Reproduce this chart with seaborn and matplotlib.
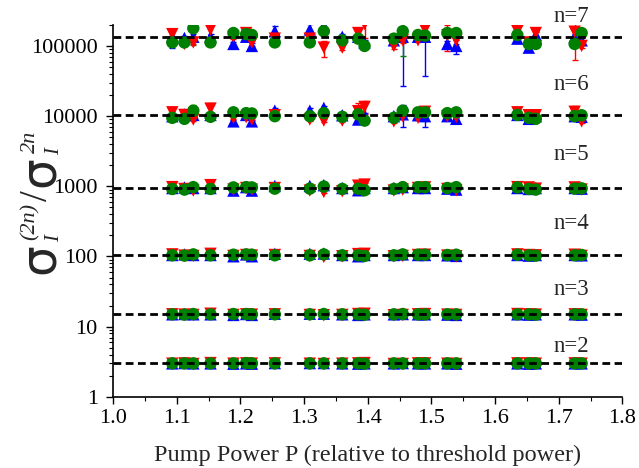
import numpy as np
import pandas as pd
import matplotlib
matplotlib.use("Agg")
import matplotlib.pyplot as plt
import seaborn as sns
from matplotlib.ticker import FuncFormatter, MultipleLocator, LogLocator

# pump power (relative to threshold)
power = [1.093, 1.112, 1.126, 1.153, 1.189, 1.209, 1.218, 1.254, 1.309, 1.331, 1.360, 1.385,
         1.395, 1.441, 1.455, 1.479, 1.490, 1.525, 1.539, 1.635, 1.653, 1.664, 1.725, 1.736]

orders = [2, 3, 4, 5, 6, 7]
theory = [3, 15, 105, 945, 10395, 135135]   # (2n-1)!!
label_y = [5.2, 33.4, 291, 2800, 27800, 260000]

red_n2 = [0.99, 1.0, 0.98, 1.01, 0.99, 1.0, 0.99, 1.0, 0.99, 0.98, 0.99, 1.0, 1.01, 0.98, 0.98, 1.0, 1.0, 0.99, 0.98, 1.0, 1.0, 0.99, 1.0, 0.99]
red_n3 = [1.0, 0.99, 0.98, 1.02, 0.98, 1.0, 0.99, 1.0, 0.98, 0.97, 0.98, 1.01, 1.02, 0.97, 0.98, 1.0, 1.01, 0.99, 0.98, 1.01, 1.0, 0.99, 1.0, 0.98]
red_n4 = [1.02, 0.98, 0.97, 1.04, 0.97, 1.0, 0.98, 1.0, 0.97, 0.94, 0.96, 1.03, 1.04, 0.96, 0.97, 1.0, 1.01, 0.98, 0.96, 1.02, 1.0, 0.99, 1.01, 0.97]
red_n5 = [1.03, 0.97, 0.92, 1.1, 0.95, 1.0, 0.95, 1.0, 0.92, 0.88, 0.9, 1.08, 1.12, 0.92, 0.95, 1.0, 1.02, 0.97, 0.93, 1.03, 1.02, 0.98, 1.02, 0.95]
red_n6 = [1.09, 1.0, 0.86, 1.23, 0.91, 0.93, 0.86, 0.99, 0.86, 0.83, 0.83, 1.13, 1.30, 0.81, 0.96, 0.91, 1.11, 0.96, 0.94, 1.09, 0.99, 0.99, 1.11, 0.81]
red_n7 = [1.09, 0.79, 0.83, 1.27, 1.0, 1.13, 0.83, 0.94, 0.94, 0.70, 0.70, 1.13, 1.52, 0.74, 0.89, 0.89, 1.27, 1.05, 0.89, 1.20, 0.83, 1.13, 1.18, 0.74]

blue_n2 = [1.0, 1.01, 1.0, 1.0, 0.99, 1.0, 0.99, 1.01, 1.01, 1.01, 1.0, 0.99, 1.0, 1.0, 1.01, 1.0, 1.0, 1.0, 0.99, 1.0, 0.99, 1.0, 1.0, 1.0]
blue_n3 = [1.0, 1.01, 1.0, 1.0, 0.98, 1.01, 0.98, 1.02, 1.02, 1.02, 1.0, 0.98, 1.0, 1.0, 1.01, 1.0, 1.0, 0.99, 0.98, 1.0, 0.99, 1.0, 1.0, 0.99]
blue_n4 = [1.0, 1.02, 1.0, 1.0, 0.96, 1.02, 0.96, 1.04, 1.04, 1.05, 1.0, 0.96, 1.0, 1.0, 1.02, 1.0, 1.0, 0.99, 0.97, 1.0, 0.98, 1.0, 1.0, 0.99]
blue_n5 = [1.0, 1.02, 1.0, 1.0, 0.92, 1.03, 0.92, 1.07, 1.07, 1.1, 1.0, 0.93, 1.0, 1.0, 1.03, 1.0, 1.0, 0.98, 0.95, 1.0, 0.97, 1.0, 1.0, 0.98]
blue_n6 = [0.96, 1.02, 1.0, 1.0, 0.81, 1.0, 0.81, 1.15, 1.15, 1.26, 0.99, 0.86, 1.0, 0.96, 1.02, 0.99, 0.96, 0.96, 0.88, 1.0, 0.88, 0.96, 0.96, 0.94]
blue_n7 = [1.0, 0.96, 1.0, 1.0, 0.79, 1.0, 0.74, 1.20, 1.27, 1.43, 1.0, 1.0, 0.83, 0.89, 1.0, 1.0, 1.0, 0.79, 0.74, 0.94, 0.70, 1.06, 1.0, 0.89]

green_n2 = [1.0, 1.0, 1.0, 1.0, 1.0, 1.01, 1.0, 1.0, 1.0, 1.0, 1.0, 1.0, 0.99, 1.0, 1.0, 1.0, 1.0, 1.0, 1.0, 1.0, 1.0, 1.0, 1.0, 1.0]
green_n3 = [1.0, 0.99, 1.01, 1.0, 1.01, 1.01, 1.0, 1.0, 1.0, 1.01, 1.0, 1.0, 0.99, 1.0, 1.01, 1.0, 1.0, 1.0, 1.0, 1.0, 1.0, 0.99, 1.0, 1.0]
green_n4 = [0.99, 0.98, 1.02, 0.99, 1.01, 1.02, 1.01, 0.99, 0.99, 1.02, 0.99, 0.99, 0.97, 0.99, 1.02, 1.01, 1.01, 1.0, 1.01, 1.01, 0.99, 0.98, 0.99, 1.0]
green_n5 = [0.97, 0.95, 1.03, 0.97, 1.02, 1.03, 1.02, 0.98, 0.98, 1.05, 0.97, 0.98, 0.93, 0.97, 1.03, 1.03, 1.03, 1.0, 1.03, 1.02, 0.97, 0.95, 0.98, 0.99]
green_n6 = [0.91, 0.88, 1.15, 0.94, 1.09, 1.06, 1.05, 0.96, 0.96, 1.06, 0.94, 1.02, 0.83, 0.91, 1.15, 1.09, 1.09, 1.06, 1.09, 1.0, 0.91, 0.88, 0.96, 0.99]
green_n7 = [0.83, 0.83, 1.32, 0.83, 1.13, 1.09, 1.06, 0.83, 0.83, 1.2, 0.89, 0.94, 0.74, 0.94, 1.2, 1.06, 1.04, 1.13, 1.13, 1.06, 0.79, 0.79, 0.79, 1.13]

# relative error (err / value)
low_err = [0.02, 0.03, 0.04, 0.05]   # n = 2..5, all series
red_err_n6 = [0.06, 0.05, 0.05, 0.2, 0.05, 0.05, 0.05, 0.05, 0.05, 0.05, 0.05, 0.3, 0.2, 0.05, 0.05, 0.05, 0.1, 0.05, 0.05, 0.08, 0.05, 0.05, 0.2, 0.05]
red_err_n7 = [0.08, 0.06, 0.06, 0.32, 0.06, 0.1, 0.1, 0.06, 0.06, 0.26, 0.06, 0.09, 0.36, 0.1, 0.08, 0.06, 0.25, 0.4, 0.1, 0.19, 0.06, 0.08, 0.6, 0.08]
blue_err_n6 = [0.06, 0.05, 0.05, 0.05, 0.05, 0.05, 0.05, 0.08, 0.08, 0.08, 0.05, 0.05, 0.05, 0.05, 0.35, 0.05, 0.3, 0.05, 0.05, 0.05, 0.05, 0.05, 0.05, 0.05]
blue_err_n7 = [0.3, 0.08, 0.08, 0.08, 0.08, 0.08, 0.1, 0.19, 0.2, 0.13, 0.08, 0.1, 0.1, 0.1, 0.8, 0.1, 0.72, 0.1, 0.22, 0.1, 0.1, 0.1, 0.08, 0.1]
green_err_n6 = [0.05, 0.05, 0.2, 0.05, 0.05, 0.05, 0.05, 0.05, 0.05, 0.05, 0.05, 0.05, 0.05, 0.05, 0.15, 0.05, 0.05, 0.05, 0.05, 0.05, 0.05, 0.05, 0.05, 0.05]
green_err_n7 = [0.08, 0.08, 0.43, 0.08, 0.12, 0.08, 0.08, 0.08, 0.08, 0.08, 0.08, 0.08, 0.08, 0.08, 0.55, 0.08, 0.08, 0.08, 0.08, 0.08, 0.08, 0.08, 0.08, 0.08]

series = {
    "blue": ([blue_n2, blue_n3, blue_n4, blue_n5, blue_n6, blue_n7], [blue_err_n6, blue_err_n7]),
    "red": ([red_n2, red_n3, red_n4, red_n5, red_n6, red_n7], [red_err_n6, red_err_n7]),
    "green": ([green_n2, green_n3, green_n4, green_n5, green_n6, green_n7], [green_err_n6, green_err_n7]),
}
colors = {"blue": "#0000ff", "red": "#ff0000", "green": "#008000"}
markers = {"blue": "^", "red": "v", "green": "o"}

rows = []
for name, (ratios, errs) in series.items():
    for i, n in enumerate(orders):
        for j, p in enumerate(power):
            val = theory[i] * ratios[i][j]
            frac = low_err[i] if i < 4 else errs[i - 4][j]
            rows.append({"series": name, "n": n, "P": p, "ratio": val, "err": val * frac})
df = pd.DataFrame(rows)

sns.set_style("ticks")
serif = "Liberation Serif"
plt.rcParams["font.family"] = [serif, "DejaVu Serif"]
plt.rcParams["font.serif"] = [serif, "DejaVu Serif"]

W, H = 639, 468
fig = plt.figure(figsize=(W / 100, H / 100), dpi=100)
ax = fig.add_axes([0.177, 0.152, 0.797, 0.795])

for name in series:
    sub = df[df["series"] == name]
    ax.errorbar(sub["P"], sub["ratio"], yerr=sub["err"], fmt="none", ecolor=colors[name],
                elinewidth=1, capsize=2.5, capthick=1, zorder=2)

sns.scatterplot(data=df, x="P", y="ratio", hue="series", style="series", palette=colors,
                markers=markers, s=80, edgecolor="none", linewidth=0, legend=False,
                ax=ax, zorder=3)

for t in theory:
    ax.axhline(t, color="black", lw=2, dashes=(2.8, 1.6), zorder=4)

for n, y in zip(orders, label_y):
    ax.text(1.72, y, f"n={n}", ha="center", va="center", fontsize=16.5,
            family=serif, clip_on=False)

ax.set_yscale("log")
ax.set_xlim(1.0, 1.8)
ax.set_ylim(1, 2e5)
ax.xaxis.set_major_locator(MultipleLocator(0.1))
ax.xaxis.set_minor_locator(MultipleLocator(0.05))
ax.xaxis.set_major_formatter(FuncFormatter(lambda v, _: f"{v:.1f}"))
ax.yaxis.set_major_locator(LogLocator(base=10, numticks=10))
ax.yaxis.set_minor_locator(LogLocator(base=10, subs=np.arange(2, 10), numticks=20))
ax.yaxis.set_major_formatter(FuncFormatter(lambda v, _: f"{v:g}" if v < 1e6 else ""))
ax.tick_params(axis="both", which="major", direction="out", length=5, width=1,
               labelsize=16, color="black", labelcolor="black")
ax.tick_params(axis="x", which="major", pad=4)
ax.tick_params(axis="y", which="major", pad=6)
ax.tick_params(axis="both", which="minor", direction="out", length=3, width=0.8, color="black")

sns.despine(ax=ax)
for s in ["left", "bottom"]:
    ax.spines[s].set_color("black")
    ax.spines[s].set_linewidth(1.2)

ax.set_xlabel("Pump Power P (relative to threshold power)", fontsize=17.5, labelpad=12,
              family=serif)
ax.set_ylabel("")


# y label built from pieces (big sigma, small italic scripts), rotated
def ylab(s, x, y, size, family="DejaVu Sans", style="normal"):
    fig.text(x / W, 1 - y / H, s, rotation=90, rotation_mode="anchor", ha="left",
             va="baseline", fontsize=size, family=family, style=style)


ylab("\u03c3", 54, 274, 35)
ylab("I", 59, 242, 15, serif, "italic")
ylab("(2n)", 35, 240, 16, serif, "italic")
ylab("/", 47, 201, 28, serif)
ylab("\u03c3", 54, 187, 35)
ylab("I", 59, 155, 15, serif, "italic")
ylab("2n", 35, 153, 16, serif, "italic")

fig.canvas.draw()
for lab in ax.get_xticklabels() + ax.get_yticklabels():
    lab.set_fontfamily(serif)

fig.savefig("out.png", dpi=100)
